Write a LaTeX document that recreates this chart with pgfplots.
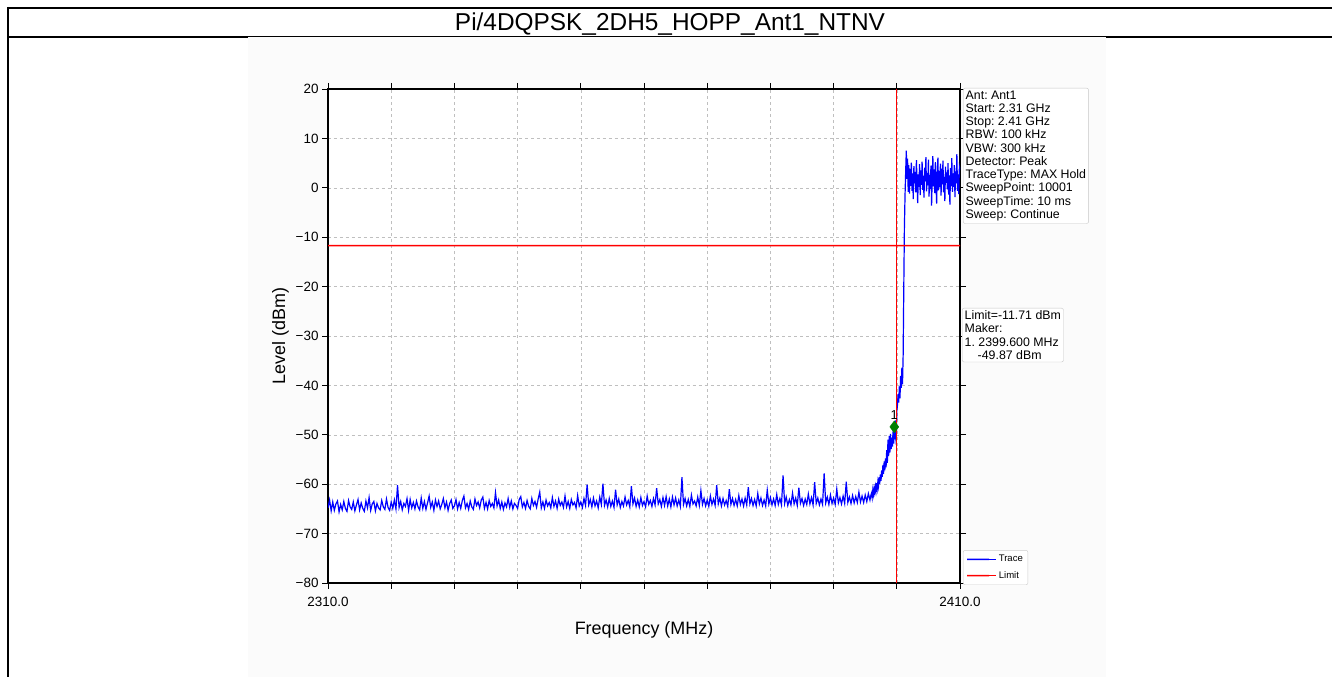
\documentclass[border=0pt]{standalone}
\usepackage{fontspec}
\setmainfont{Liberation Sans}
\usepackage{pgfplots}
\pgfplotsset{compat=1.18}
\definecolor{mkgreen}{RGB}{0,128,0}
\definecolor{trace}{RGB}{0,0,255}
\definecolor{limit}{RGB}{255,0,0}
\frenchspacing
\begin{document}
\begin{tikzpicture}[x=1bp,y=1bp]
\useasboundingbox (0,0) rectangle (1332,677);
% page frame and title cell
\draw[line width=2bp] (7,669) -- (1332,669);
\draw[line width=2bp] (8,670) -- (8,0);
\draw[line width=2bp] (8,640) -- (1332,640);
\node[anchor=base, font=\fontsize{24.5}{27}\selectfont, inner sep=0pt] at (670,646.5) {Pi/4DQPSK\_2DH5\_HOPP\_Ant1\_NTNV};
% plot image background
\fill[gray!3] (248,0) rectangle (1106,640);

\begin{axis}[
  at={(328bp,94bp)}, anchor=south west,
  width=632bp, height=494bp, scale only axis,
  xmin=2310, xmax=2410, ymin=-80, ymax=20,
  xtick={2310,2320,...,2410},
  xticklabels={2310.0,,,,,,,,,,2410.0},
  ytick={-80,-70,...,20},
  yticklabels={−80,−70,−60,−50,−40,−30,−20,−10,0,10,20},
  tick align=outside, major tick length=6bp,
  tick style={black, line width=0.8bp},
  axis line style={line width=1.2bp},
  grid=major, grid style={dashed, gray!50, line width=0.5bp},
  ticklabel style={font=\fontsize{13.5}{15}\selectfont},
  xticklabel style={yshift=-5bp},
  xlabel={Frequency (MHz)}, ylabel={Level (dBm)},
  label style={font=\fontsize{18}{20}\selectfont},
  xlabel style={yshift=-8bp},
  axis background/.style={fill=white},
  legend style={at={(1,0)}, anchor=south west, xshift=3bp, yshift=-2bp,
    draw=gray!40, rounded corners=2bp, fill=white, text=black,
    font=\fontsize{9.6}{11}\selectfont, inner sep=3bp, row sep=4bp},
  legend cell align=left,
  legend image code/.code={\path (0bp,0bp) -- (29bp,0bp); \draw[#1, line width=1.6bp] (0bp,0bp) -- (22bp,0.02bp);},
]
% trace (max hold)
\addplot[color=trace, line width=1.2bp] coordinates {
(2310.0,-64.8)(2310.25,-63.2)(2310.5,-65.4)(2310.75,-63.6)(2311.0,-65.3)(2311.25,-64.0)(2311.5,-63.4)(2311.75,-65.6)
(2312.0,-64.1)(2312.25,-65.2)(2312.5,-63.5)(2312.75,-64.9)(2313.0,-65.5)(2313.25,-63.3)(2313.5,-64.6)(2313.75,-65.1)
(2314.0,-63.6)(2314.25,-65.4)(2314.5,-64.2)(2314.75,-63.1)(2315.0,-65.2)(2315.25,-63.8)(2315.5,-64.9)(2315.75,-65.5)
(2316.0,-63.4)(2316.25,-64.8)(2316.5,-62.7)(2316.75,-65.3)(2317.0,-64.0)(2317.25,-63.5)(2317.5,-65.4)(2317.75,-63.9)
(2318.0,-64.8)(2318.25,-65.2)(2318.5,-63.3)(2318.75,-64.6)(2319.0,-65.1)(2319.25,-63.0)(2319.5,-64.7)(2319.75,-65.3)
(2320.0,-63.6)(2320.25,-64.9)(2320.5,-63.2)(2320.75,-65.0)(2321.0,-60.2)(2321.25,-64.7)(2321.5,-63.5)(2321.75,-65.2)
(2322.0,-63.9)(2322.25,-64.5)(2322.5,-62.9)(2322.75,-65.3)(2323.0,-63.1)(2323.25,-64.8)(2323.5,-63.7)(2323.75,-65.0)
(2324.0,-63.4)(2324.25,-64.6)(2324.5,-65.2)(2324.75,-62.8)(2325.0,-64.9)(2325.25,-63.5)(2325.5,-65.1)(2325.75,-63.8)
(2326.0,-62.4)(2326.25,-64.7)(2326.5,-63.6)(2326.75,-65.3)(2327.0,-63.2)(2327.25,-64.5)(2327.5,-63.4)(2327.75,-65.0)
(2328.0,-64.1)(2328.25,-62.9)(2328.5,-64.8)(2328.75,-63.6)(2329.0,-65.3)(2329.25,-63.9)(2329.5,-63.2)(2329.75,-64.9)
(2330.0,-64.4)(2330.25,-63.1)(2330.5,-65.0)(2330.75,-63.7)(2331.0,-64.9)(2331.25,-63.3)(2331.5,-62.4)(2331.75,-64.8)
(2332.0,-63.9)(2332.25,-65.1)(2332.5,-63.4)(2332.75,-64.6)(2333.0,-65.1)(2333.25,-63.0)(2333.5,-64.3)(2333.75,-63.6)
(2334.0,-64.8)(2334.25,-63.2)(2334.5,-62.6)(2334.75,-64.9)(2335.0,-63.7)(2335.25,-65.0)(2335.5,-63.3)(2335.75,-64.5)
(2336.0,-63.9)(2336.25,-64.8)(2336.5,-61.7)(2336.75,-64.4)(2337.0,-63.2)(2337.25,-64.9)(2337.5,-63.6)(2337.75,-65.1)
(2338.0,-63.8)(2338.25,-64.6)(2338.5,-62.9)(2338.75,-64.7)(2339.0,-63.4)(2339.25,-65.0)(2339.5,-63.9)(2339.75,-64.3)
(2340.0,-64.9)(2340.25,-63.1)(2340.5,-62.5)(2340.75,-64.6)(2341.0,-63.7)(2341.25,-64.9)(2341.5,-63.3)(2341.75,-64.5)
(2342.0,-65.0)(2342.25,-62.9)(2342.5,-64.3)(2342.75,-63.5)(2343.0,-64.7)(2343.25,-63.0)(2343.5,-61.6)(2343.75,-64.8)
(2344.0,-63.6)(2344.25,-64.9)(2344.5,-63.2)(2344.75,-64.4)(2345.0,-63.7)(2345.25,-64.8)(2345.5,-62.7)(2345.75,-64.5)
(2346.0,-63.4)(2346.25,-64.9)(2346.5,-63.0)(2346.75,-64.3)(2347.0,-63.6)(2347.25,-64.7)(2347.5,-62.4)(2347.75,-64.6)
(2348.0,-63.5)(2348.25,-64.9)(2348.5,-63.1)(2348.75,-64.2)(2349.0,-63.7)(2349.25,-64.8)(2349.5,-62.3)(2349.75,-64.4)
(2350.0,-63.6)(2350.25,-64.7)(2350.5,-62.9)(2350.75,-64.3)(2351.0,-60.1)(2351.25,-64.2)(2351.5,-63.1)(2351.75,-64.6)
(2352.0,-62.8)(2352.25,-64.4)(2352.5,-63.4)(2352.75,-64.8)(2353.0,-62.6)(2353.25,-64.1)(2353.5,-59.9)(2353.75,-64.3)
(2354.0,-63.2)(2354.25,-64.6)(2354.5,-62.9)(2354.75,-64.5)(2355.0,-63.4)(2355.25,-64.7)(2355.5,-61.1)(2355.75,-64.2)
(2356.0,-63.0)(2356.25,-64.7)(2356.5,-63.5)(2356.75,-64.4)(2357.0,-62.6)(2357.25,-64.2)(2357.5,-63.3)(2357.75,-64.6)
(2358.0,-60.4)(2358.25,-64.0)(2358.5,-62.8)(2358.75,-64.5)(2359.0,-63.2)(2359.25,-64.6)(2359.5,-62.7)(2359.75,-64.3)
(2360.0,-63.5)(2360.25,-64.6)(2360.5,-62.4)(2360.75,-64.1)(2361.0,-63.3)(2361.25,-64.5)(2361.5,-62.9)(2361.75,-64.2)
(2362.0,-60.8)(2362.25,-64.0)(2362.5,-63.1)(2362.75,-64.5)(2363.0,-62.7)(2363.25,-64.3)(2363.5,-62.5)(2363.75,-64.4)
(2364.0,-63.0)(2364.25,-64.6)(2364.5,-62.6)(2364.75,-64.2)(2365.0,-62.8)(2365.25,-64.4)(2365.5,-63.2)(2365.75,-64.5)
(2366.0,-58.6)(2366.25,-64.1)(2366.5,-62.9)(2366.75,-64.4)(2367.0,-63.1)(2367.25,-64.5)(2367.5,-62.2)(2367.75,-64.0)
(2368.0,-63.4)(2368.25,-64.4)(2368.5,-62.6)(2368.75,-64.3)(2369.0,-61.3)(2369.25,-64.1)(2369.5,-62.9)(2369.75,-64.4)
(2370.0,-63.2)(2370.25,-64.5)(2370.5,-62.4)(2370.75,-64.1)(2371.0,-63.0)(2371.25,-64.3)(2371.5,-60.2)(2371.75,-64.0)
(2372.0,-62.8)(2372.25,-64.4)(2372.5,-62.9)(2372.75,-64.2)(2373.0,-63.3)(2373.25,-64.5)(2373.5,-61.0)(2373.75,-64.1)
(2374.0,-62.9)(2374.25,-64.3)(2374.5,-63.1)(2374.75,-64.4)(2375.0,-62.3)(2375.25,-64.1)(2375.5,-63.0)(2375.75,-64.4)
(2376.0,-62.8)(2376.25,-64.2)(2376.5,-60.6)(2376.75,-64.0)(2377.0,-62.9)(2377.25,-64.3)(2377.5,-63.1)(2377.75,-64.4)
(2378.0,-61.9)(2378.25,-64.0)(2378.5,-62.8)(2378.75,-64.3)(2379.0,-63.2)(2379.25,-64.4)(2379.5,-61.2)(2379.75,-64.0)
(2380.0,-62.7)(2380.25,-64.2)(2380.5,-63.0)(2380.75,-64.3)(2381.0,-62.1)(2381.25,-64.1)(2381.5,-62.9)(2381.75,-64.2)
(2382.0,-58.2)(2382.25,-63.9)(2382.5,-62.6)(2382.75,-64.3)(2383.0,-63.1)(2383.25,-64.2)(2383.5,-61.8)(2383.75,-64.0)
(2384.0,-62.8)(2384.25,-64.3)(2384.5,-60.7)(2384.75,-63.9)(2385.0,-62.9)(2385.25,-64.3)(2385.5,-63.0)(2385.75,-64.1)
(2386.0,-62.0)(2386.25,-64.0)(2386.5,-62.7)(2386.75,-64.2)(2387.0,-59.6)(2387.25,-63.9)(2387.5,-62.8)(2387.75,-64.2)
(2388.0,-63.0)(2388.25,-64.1)(2388.5,-57.8)(2388.75,-63.8)(2389.0,-62.6)(2389.25,-64.1)(2389.5,-62.2)(2389.75,-63.9)
(2390.0,-62.8)(2390.25,-64.1)(2390.5,-61.0)(2390.75,-63.8)(2391.0,-62.7)(2391.25,-64.0)(2391.5,-62.4)(2391.75,-63.9)
(2392.0,-59.5)(2392.25,-63.7)(2392.5,-62.6)(2392.75,-63.9)(2393.0,-62.3)(2393.25,-63.8)(2393.5,-62.5)(2393.75,-63.7)
(2394.0,-61.6)(2394.25,-63.6)(2394.5,-62.4)(2394.75,-63.7)(2395.0,-62.2)(2395.25,-63.5)(2395.5,-61.9)(2395.75,-63.2)
(2395.9,-62.2)(2396.0,-61.8)(2396.1,-62.7)(2396.2,-61.2)(2396.3,-62.1)(2396.4,-60.9)(2396.5,-61.7)
(2396.6,-60.5)(2396.7,-61.4)(2396.8,-59.8)(2396.9,-60.9)(2397.0,-59.5)(2397.1,-60.4)(2397.2,-58.6)(2397.3,-59.9)(2397.4,-58.0)(2397.5,-59.3)
(2397.6,-57.2)(2397.7,-58.5)(2397.8,-56.1)(2397.9,-57.9)(2398.0,-55.4)(2398.1,-57.2)(2398.2,-54.8)(2398.3,-56.6)(2398.4,-53.1)(2398.5,-55.7)
(2398.6,-51.0)(2398.7,-54.3)(2398.8,-50.2)(2398.9,-53.6)(2399.0,-49.8)(2399.1,-52.9)(2399.2,-50.6)(2399.3,-52.4)(2399.4,-49.3)(2399.5,-51.8)
(2399.6,-48.4)(2399.7,-50.9)(2399.8,-47.1)(2399.9,-52.0)(2400.0,-45.2)(2400.1,-44.0)(2400.2,-41.8)(2400.3,-43.5)(2400.4,-40.2)(2400.5,-42.6)
(2400.6,-38.1)(2400.7,-40.5)(2400.8,-36.4)(2400.9,-39.8)(2401.0,-34.0)(2401.1,-20.5)(2401.2,-8.0)(2401.3,-1.5)(2401.4,3.2)(2401.5,7.5)
(2401.6,1.8)(2401.7,5.9)(2401.8,-0.8)(2401.9,4.6)
(2402.0,-1.2)(2402.1,3.8)(2402.2,0.4)(2402.3,5.1)(2402.4,-0.6)(2402.5,2.9)(2402.6,-2.3)(2402.7,4.4)(2402.8,0.9)(2402.9,3.2)
(2403.0,-0.9)(2403.1,5.6)(2403.2,1.1)(2403.3,-3.1)(2403.4,2.7)(2403.5,0.2)(2403.6,4.8)(2403.7,-1.5)(2403.8,3.5)(2403.9,0.6)
(2404.0,5.3)(2404.1,-0.4)(2404.2,2.4)(2404.3,-2.0)(2404.4,4.1)(2404.5,1.3)(2404.6,6.2)(2404.7,-0.7)(2404.8,3.0)(2404.9,0.5)
(2405.0,5.7)(2405.1,-1.8)(2405.2,2.6)(2405.3,-0.2)(2405.4,4.5)(2405.5,-3.6)(2405.6,1.9)(2405.7,6.4)(2405.8,0.3)(2405.9,3.7)
(2406.0,-1.1)(2406.1,5.2)(2406.2,0.8)(2406.3,-3.2)(2406.4,2.8)(2406.5,6.1)(2406.6,-0.5)(2406.7,3.4)(2406.8,0.1)(2406.9,4.9)
(2407.0,-1.6)(2407.1,3.9)(2407.2,0.7)(2407.3,5.5)(2407.4,-0.9)(2407.5,2.2)(2407.6,-2.7)(2407.7,4.3)(2407.8,1.0)(2407.9,3.1)
(2408.0,-0.3)(2408.1,5.0)(2408.2,-1.4)(2408.3,2.5)(2408.4,-3.4)(2408.5,4.0)(2408.6,0.4)(2408.7,6.0)(2408.8,-0.8)(2408.9,2.9)
(2409.0,0.2)(2409.1,4.6)(2409.2,-1.9)(2409.3,3.3)(2409.4,0.9)(2409.5,6.8)(2409.6,-0.6)(2409.7,2.7)(2409.8,-1.3)(2409.9,4.2)
(2410.0,3.6)
};
\addlegendentry{Trace}
% limit line
\addplot[color=limit, line width=1.6bp] coordinates {(2310,-11.71) (2360,-11.70) (2410,-11.71)};
\addlegendentry{Limit}
% band edge
\addplot[color=limit, line width=1bp, forget plot] coordinates {(2400,-80) (2400,20)};
% marker 1
\addplot[only marks, mark=diamond*, mark size=6bp, color=mkgreen, forget plot]
  coordinates {(2399.6,-48.4)};
\node[anchor=south, font=\fontsize{13}{15}\selectfont, inner sep=0pt, yshift=7bp]
  at (axis cs:2399.6,-48.4) {1};
\end{axis}

% info boxes
\node[anchor=north west, draw=gray!45, rounded corners=2bp, fill=white, align=left,
  inner sep=2.5bp, font=\fontsize{12.4}{13.3}\selectfont] at (963,589)
  {Ant: Ant1\\Start: 2.31 GHz\\Stop: 2.41 GHz\\RBW: 100 kHz\\VBW: 300 kHz\\Detector: Peak\\TraceType: MAX Hold\\SweepPoint: 10001\\SweepTime: 10 ms\\Sweep: Continue};
\node[anchor=north west, draw=gray!45, rounded corners=2bp, fill=white, align=left,
  inner sep=2.5bp, font=\fontsize{12.4}{13.3}\selectfont] at (962,369)
  {Limit=-11.71 dBm\\Maker:\\1. 2399.600 MHz\\\hspace*{13bp}-49.87 dBm};
\end{tikzpicture}
\end{document}
